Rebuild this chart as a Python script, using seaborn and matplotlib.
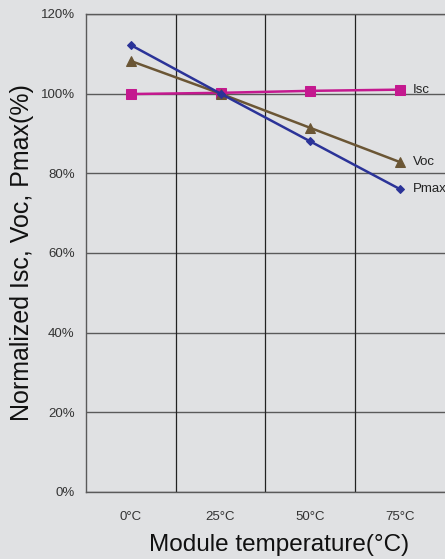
import numpy as np
import pandas as pd
import matplotlib
matplotlib.use('Agg')
import matplotlib.pyplot as plt
import seaborn as sns

# values
temps = ['0°C', '25°C', '50°C', '75°C']
isc = [99.9, 100.2, 100.7, 101.0]
voc = [108.2, 100.0, 91.4, 82.8]
pmax = [112.2, 100.0, 88.0, 76.0]
y_ticks = [0, 20, 40, 60, 80, 100, 120]

bg = '#e0e1e3'
sns.set_style('white', {'axes.facecolor': bg, 'figure.facecolor': bg})
plt.rcParams['font.family'] = ['Liberation Sans', 'DejaVu Sans']

fig = plt.figure(figsize=(4.45, 5.59), dpi=100)
ax = fig.add_axes([0.193, 0.12, 0.807, 0.855])

pos = np.arange(len(temps))
series = [
    ('Isc', isc, '#c4198f', 's', 6.5),
    ('Voc', voc, '#6b5635', '^', 7),
    ('Pmax', pmax, '#2b3398', 'D', 4.5),
]

# grid first so lines sit on top
for v in y_ticks:
    ax.axhline(v, color='#5a5a5a', lw=1.0, zorder=1)
for b in pos[:-1] + 0.5:
    ax.axvline(b, color='#222222', lw=0.9, zorder=1)

for name, vals, col, mk, ms in series:
    sns.lineplot(x=pos, y=vals, ax=ax, color=col, marker=mk, markersize=ms,
                 markeredgecolor=col, linewidth=1.8, zorder=3)
    ax.text(pos[-1] + 0.14, vals[-1], name, fontsize=9.5, color='#222222',
            va='center', ha='left', zorder=4)

ax.set_xlim(-0.5, 3.5)
ax.set_ylim(0, 120)
ax.set_xticks(pos)
ax.set_xticklabels(temps, fontsize=9.5, color='#333333')
ax.set_yticks(y_ticks)
ax.set_yticklabels([f'{v}%' for v in y_ticks], fontsize=9.5, color='#333333')
ax.tick_params(length=0, pad=8)
ax.tick_params(axis='x', pad=14)

for s in ['left', 'bottom', 'top']:
    ax.spines[s].set_color('#5a5a5a')
    ax.spines[s].set_linewidth(1.0)
ax.spines['right'].set_visible(False)

ax.set_xlabel('Module temperature(°C)', fontsize=17.5, color='#111111')
ax.xaxis.set_label_coords(0.539, -0.111, transform=ax.transAxes)
ax.xaxis.label.set_va('center')
ax.set_ylabel('Normalized Isc, Voc, Pmax(%)', fontsize=18, color='#111111', labelpad=5)

fig.savefig('out.png', dpi=100, facecolor=bg)
